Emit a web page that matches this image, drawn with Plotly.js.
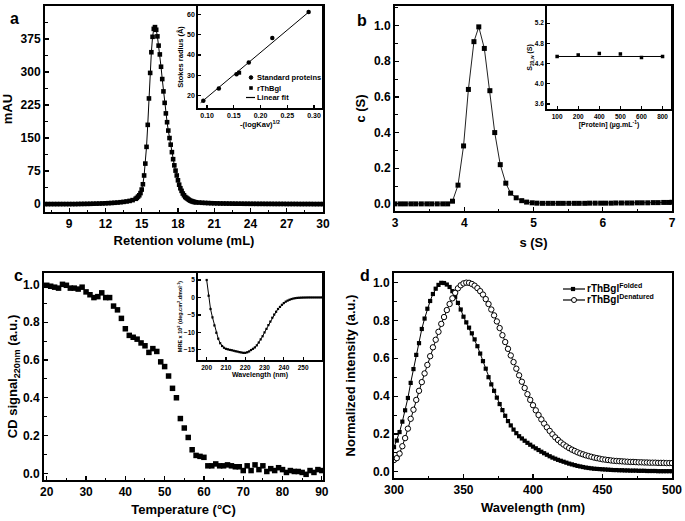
<!DOCTYPE html>
<html>
<head>
<meta charset="utf-8">
<script src="https://cdn.plot.ly/plotly-3.0.1.min.js"></script>
<style>html,body{margin:0;padding:0;background:#fff;}#chart{width:685px;height:521px;}</style>
</head>
<body>
<div id="chart"></div>
<script>
// ---------- Panel a: size-exclusion chromatogram ----------
const aVol = [7,7.25,7.5,7.75,8,8.25,8.5,8.75,9,9.25,9.5,9.75,10,10.25,10.5,10.75,11,11.25,11.5,11.75,12,12.25,12.5,12.75,13,13.25,13.5,13.75,14,14.25,
14.5,14.6,14.7,14.8,14.9,15,15.1,15.2,15.3,15.4,15.5,15.6,15.7,15.8,15.9,16,16.1,16.2,16.3,16.4,16.5,16.6,16.7,16.8,16.9,17,17.1,17.2,17.3,17.4,17.5,17.6,17.7,17.8,17.9,18,18.1,18.2,18.3,18.4,18.5,18.6,18.7,18.8,18.9,19,19.1,19.2,19.3,19.4,19.5,
19.75,20,20.25,20.5,20.75,21,21.25,21.5,21.75,22,22.25,22.5,22.75,23,23.25,23.5,23.75,24,24.25,24.5,24.75,25,25.25,25.5,25.75,26,26.25,26.5,26.75,27,27.25,27.5,27.75,28,28.25,28.5,28.75,29,29.25,29.5,29.75,30];
const aMAU = [0,0,0,0,0,0,0,0,0,0,0,0.2,0.3,0.4,0.5,0.6,0.8,1,1.2,1.5,1.8,2.1,2.5,3,3.5,4.2,5,6,7.2,9,
12,14,17,20,25,33,45,65,92,130,180,240,298,345,380,398,402,396,381,360,340,312,284,256,230,206,186,167,150,135,118,102,88,76,65,54,44,36,30,24,20,16,14,12,10,8,7,6,5,4.5,4,
3.5,3,2.6,2.3,2,1.8,1.6,1.4,1.3,1.2,1.1,1,0.9,0.8,0.8,0.7,0.7,0.6,0.6,0.5,0.5,0.5,0.4,0.4,0.4,0.3,0.3,0.3,0.3,0.2,0.2,0.2,0.2,0.1,0.1,0.1,0.1,0.1,0,0,0,0];
// inset a: calibration
const stdKav = [0.093,0.122,0.155,0.178,0.222,0.29];
const stdRadius = [17.5,23.5,30.5,36.3,48.3,61];
const rthKav = [0.16];
const rthRadius = [31.3];
const fitKav = [0.088,0.29];
const fitRadius = [16.6,61];
const aLegend = ['Standard proteins', 'rThBgl', 'Linear fit'];

// ---------- Panel b: sedimentation velocity ----------
const bS = [3,3.08,3.15,3.23,3.3,3.38,3.46,3.53,3.61,3.69,3.76,3.83,3.91,3.99,4.06,4.14,4.21,4.29,4.37,4.44,4.52,4.6,4.67,4.75,4.83,4.9,4.98,5.05,5.13,5.21,5.28,5.36,5.43,5.51,5.59,5.66,5.74,5.81,5.89,5.97,6.04,6.12,6.19,6.27,6.35,6.42,6.5,6.57,6.65,6.73,6.8,6.88,6.95,7];
const bC = [0,0,0,0,0,0,0,0,0,0,0,0.015,0.105,0.325,0.642,0.91,0.993,0.872,0.635,0.4,0.22,0.116,0.06,0.034,0.018,0.01,0.006,0.004,0.003,0.003,0.003,0.003,0.003,0.003,0.003,0.003,0.003,0.004,0.004,0.004,0.004,0.004,0.005,0.005,0.005,0.005,0.006,0.006,0.006,0.007,0.007,0.008,0.008,0.009];
// inset b
const bConc = ['100','200','400','500','600','800'];
const bSed = [4.54,4.57,4.60,4.59,4.52,4.54];
const bFitConc = ['100','800'];
const bFitSed = [4.54,4.54];

// ---------- Panel c: thermal denaturation ----------
const cTemp = [20,21,22,23,24,25,26,27,28,29,30,31,32,33,34,35,36,37,38,39,40,41,42,43,44,45,46,47,48,49,50,51,52,53,54,55,56,57,58,59,60,61,62,63,64,65,66,67,68,69,70,71,72,73,74,75,76,77,78,79,80,81,82,83,84,85,86,87,88,89,90];
const cCD = [0.995,0.99,0.985,0.98,1.0,0.995,0.98,0.98,0.975,0.985,0.96,0.945,0.93,0.935,0.955,0.93,0.93,0.885,0.865,0.82,0.765,0.73,0.72,0.71,0.69,0.675,0.64,0.66,0.645,0.59,0.565,0.515,0.45,0.40,0.29,0.24,0.19,0.125,0.095,0.09,0.085,0.04,0.04,0.05,0.04,0.04,0.045,0.04,0.035,0.035,0.015,0.04,0.015,0.045,0.02,0.04,0.01,0.025,0.015,0.03,0.02,0.005,0.015,0.01,0.01,0.005,-0.005,0.015,0.005,0.02,0.015];
// inset c: far-UV CD spectrum
const cWl = [200,201,202,203,204,205,206,207,208,209,210,211,212,213,214,215,216,217,218,219,220,221,222,223,224,225,226,227,228,229,230,231,232,233,234,235,236,237,238,239,240,241,242,243,244,245,246,247,248,249,250,251,252,253,254,255,256,257,258,259,260];
const cMRE = [5,0.5,-3.3,-5.7,-8,-10.1,-11.8,-13.1,-13.9,-14.4,-14.7,-14.85,-15,-15.1,-15.25,-15.4,-15.5,-15.65,-15.75,-15.85,-15.85,-15.7,-15.45,-15.05,-14.7,-14.3,-13.7,-12.9,-12,-11.1,-10,-9,-7.9,-6.9,-5.8,-4.9,-4.1,-3.3,-2.7,-2.1,-1.6,-1.2,-0.9,-0.65,-0.45,-0.3,-0.2,-0.12,-0.08,-0.05,-0.03,-0.02,-0.01,0,0,0,0,0,0,0,0];

// ---------- Panel d: intrinsic fluorescence ----------
const dWl = [300,302,304,306,308,310,312,314,316,318,320,322,324,326,328,330,332,334,336,338,340,342,344,346,348,350,352,354,356,358,360,362,364,366,368,370,372,374,376,378,380,382,384,386,388,390,392,394,396,398,400,402,404,406,408,410,412,414,416,418,420,422,424,426,428,430,432,434,436,438,440,442,444,446,448,450,452,454,456,458,460,462,464,466,468,470,472,474,476,478,480,482,484,486,488,490,492,494,496,498,500];
const dFolded = [0.13,0.165,0.21,0.265,0.325,0.39,0.47,0.543,0.618,0.68,0.755,0.81,0.862,0.903,0.94,0.968,0.988,0.999,0.998,0.99,0.977,0.955,0.925,0.893,0.858,0.82,0.79,0.762,0.732,0.70,0.664,0.625,0.585,0.545,0.5,0.462,0.428,0.392,0.358,0.326,0.296,0.268,0.245,0.223,0.204,0.188,0.176,0.164,0.153,0.143,0.133,0.124,0.115,0.106,0.098,0.09,0.082,0.075,0.069,0.063,0.058,0.053,0.048,0.043,0.039,0.035,0.031,0.028,0.025,0.022,0.02,0.018,0.016,0.015,0.014,0.013,0.012,0.011,0.01,0.009,0.009,0.008,0.008,0.007,0.007,0.006,0.006,0.006,0.005,0.005,0.005,0.004,0.004,0.004,0.004,0.003,0.003,0.003,0.003,0.003,0.003];
const dDenatured = [0.062,0.072,0.096,0.135,0.178,0.228,0.28,0.328,0.38,0.428,0.474,0.52,0.565,0.611,0.658,0.698,0.74,0.782,0.818,0.855,0.887,0.917,0.946,0.97,0.986,0.996,1.0,0.999,0.993,0.984,0.971,0.955,0.937,0.913,0.887,0.858,0.827,0.795,0.76,0.722,0.686,0.65,0.615,0.58,0.545,0.51,0.476,0.443,0.41,0.38,0.352,0.325,0.3,0.277,0.255,0.235,0.216,0.198,0.182,0.168,0.155,0.144,0.134,0.125,0.117,0.11,0.103,0.097,0.092,0.087,0.083,0.079,0.075,0.072,0.069,0.066,0.064,0.062,0.06,0.058,0.057,0.056,0.055,0.054,0.053,0.052,0.052,0.051,0.05,0.05,0.049,0.049,0.048,0.048,0.048,0.047,0.047,0.047,0.046,0.046,0.046];
const dLegend = ['rThBgl<sup>Folded</sup>', 'rThBgl<sup>Denatured</sup>'];

// ---------- styling ----------
const F = 'Liberation Sans, Arial, sans-serif';
function axis(o) {
  const fs = o.fs || 12;
  const a = {
    domain: o.domain, range: o.range, anchor: o.anchor,
    showgrid: false, zeroline: false, showline: true, mirror: true,
    linecolor: 'black', linewidth: o.lw || 2,
    ticks: 'inside', ticklen: o.tl || 4, tickwidth: 1.2, tickcolor: 'black',
    tickfont: {family: F, size: fs, color: 'black', weight: 'bold'},
    automargin: false, fixedrange: true,
    title: {text: o.title || '', font: {family: F, size: o.tfs || 13, color: 'black', weight: 'bold'}, standoff: o.so !== undefined ? o.so : 5}
  };
  if (o.type) a.type = o.type;
  if (o.cats) { a.categoryorder = 'array'; a.categoryarray = o.cats; }
  if (o.dtick !== undefined) { a.dtick = o.dtick; a.tick0 = o.tick0 !== undefined ? o.tick0 : 0; }
  if (o.fmt) a.tickformat = o.fmt;
  if (o.minor) a.minor = {ticks: 'inside', ticklen: 2.5, tickcolor: 'black', tickwidth: 1, dtick: o.minor, tick0: o.tick0 !== undefined ? o.tick0 : 0};
  return a;
}

const blk = 'black';
const traces = [
  {x: aVol, y: aMAU, xaxis: 'x', yaxis: 'y', mode: 'lines+markers', type: 'scatter',
   line: {color: blk, width: 1}, marker: {symbol: 'square', size: 4.6, color: blk}},
  {x: fitKav, y: fitRadius, xaxis: 'x2', yaxis: 'y2', mode: 'lines', type: 'scatter', name: aLegend[2],
   line: {color: blk, width: 1}},
  {x: stdKav, y: stdRadius, xaxis: 'x2', yaxis: 'y2', mode: 'markers', type: 'scatter', name: aLegend[0],
   marker: {symbol: 'circle', size: 4.5, color: blk}},
  {x: rthKav, y: rthRadius, xaxis: 'x2', yaxis: 'y2', mode: 'markers', type: 'scatter', name: aLegend[1],
   marker: {symbol: 'square', size: 4, color: blk}},
  {x: bS, y: bC, xaxis: 'x3', yaxis: 'y3', mode: 'lines+markers', type: 'scatter',
   line: {color: '#222', width: 1}, marker: {symbol: 'square', size: 5, color: blk}},
  {x: bConc, y: bSed, xaxis: 'x4', yaxis: 'y4', mode: 'markers', type: 'scatter',
   marker: {symbol: 'square', size: 3.5, color: blk}},
  {x: bFitConc, y: bFitSed, xaxis: 'x4', yaxis: 'y4', mode: 'lines', type: 'scatter',
   line: {color: blk, width: 1}},
  {x: cTemp, y: cCD, xaxis: 'x5', yaxis: 'y5', mode: 'markers', type: 'scatter',
   marker: {symbol: 'square', size: 5.5, color: blk}},
  {x: cWl, y: cMRE, xaxis: 'x6', yaxis: 'y6', mode: 'lines+markers', type: 'scatter',
   line: {color: blk, width: 1}, marker: {symbol: 'square', size: 2.2, color: blk}},
  {x: dWl, y: dFolded, xaxis: 'x7', yaxis: 'y7', mode: 'lines+markers', type: 'scatter', name: dLegend[0],
   line: {color: blk, width: 1}, marker: {symbol: 'square', size: 4.2, color: blk}},
  {x: dWl, y: dDenatured, xaxis: 'x7', yaxis: 'y7', mode: 'lines+markers', type: 'scatter', name: dLegend[1],
   line: {color: blk, width: 1}, marker: {symbol: 'circle', size: 5.4, color: 'white', line: {color: blk, width: 1}}}
];

const W = 685, H = 521;
const px = v => v / W, py = v => 1 - v / H;

// hand-built compact legends (symbol shapes + text), in paper coordinates
const shapes = [];
const annotations = [];
function legText(t, xl, yc, size) {
  annotations.push({text: t, x: px(xl), y: py(yc), xref: 'paper', yref: 'paper', xanchor: 'left', yanchor: 'middle',
    showarrow: false, font: {family: F, size: size, color: 'black', weight: 'bold'}});
}
function legLine(x0, x1, yc) {
  shapes.push({type: 'line', xref: 'paper', yref: 'paper', x0: px(x0), x1: px(x1), y0: py(yc), y1: py(yc), line: {color: blk, width: 1.2}});
}
function legSquare(cx, cy, s) {
  shapes.push({type: 'rect', xref: 'paper', yref: 'paper', x0: px(cx - s / 2), x1: px(cx + s / 2), y0: py(cy - s / 2), y1: py(cy + s / 2), fillcolor: blk, line: {color: blk, width: 0}});
}
function legCircle(cx, cy, s, fill) {
  shapes.push({type: 'circle', xref: 'paper', yref: 'paper', x0: px(cx - s / 2), x1: px(cx + s / 2), y0: py(cy - s / 2), y1: py(cy + s / 2), fillcolor: fill, line: {color: blk, width: 1}});
}
// inset a legend
legCircle(251, 77.5, 3.6, blk); legText(aLegend[0], 255, 77.5, 7.5);
legSquare(251, 88, 3.6);        legText(aLegend[1], 255, 88, 7.5);
legLine(246, 255, 97.5);        legText(aLegend[2], 255, 97.5, 7.5);
// panel d legend
legLine(563, 585, 289); legSquare(573, 289, 4.2); legText(dLegend[0], 585, 288, 10);
legLine(563, 585, 300); legCircle(574, 300, 5, 'white'); legText(dLegend[1], 585, 299, 10);

// panel letters
[['a', 8, 8], ['b', 362, 10], ['c', 12, 275], ['d', 365, 275]].forEach(l => {
  annotations.push({text: l[0], x: px(l[1]), y: py(l[2]), xref: 'paper', yref: 'paper', showarrow: false,
    font: {family: F, size: 16, color: 'black', weight: 'bold'}});
});

const layout = {
  width: W, height: H, margin: {l: 0, r: 0, t: 0, b: 0},
  paper_bgcolor: 'white', plot_bgcolor: 'rgba(0,0,0,0)', showlegend: false,
  font: {family: F, color: 'black', weight: 'bold'},
  xaxis: axis({domain: [px(45), px(323)], range: [7, 30], anchor: 'y', dtick: 3, tick0: 9, minor: 1.5, title: 'Retention volume (mL)', so: 5}),
  yaxis: axis({domain: [py(212), py(6)], range: [-18, 450], anchor: 'x', dtick: 75, minor: 37.5, title: 'mAU', so: 5}),
  xaxis2: axis({domain: [px(198), px(322)], range: [0.083, 0.315], anchor: 'y2', dtick: 0.05, tick0: 0.1, fmt: '.2f', fs: 7, tfs: 7.5, lw: 1.8, tl: 3, title: '-(logKav)<sup>1/2</sup>', so: 2}),
  yaxis2: axis({domain: [py(108), py(6)], range: [14, 64], anchor: 'x2', dtick: 10, tick0: 20, fs: 7, tfs: 7.5, lw: 1.8, tl: 3, title: 'Stokes radius (Å)', so: 2}),
  xaxis3: axis({domain: [px(395), px(672)], range: [3, 7], anchor: 'y3', dtick: 1, minor: 0.5, title: 's (S)', so: 8}),
  yaxis3: axis({domain: [py(211), py(6)], range: [-0.04, 1.11], anchor: 'x3', dtick: 0.2, minor: 0.1, fmt: '.1f', title: 'c (S)', so: 5}),
  xaxis4: axis({domain: [px(547), px(671)], range: [-0.48, 5.4], anchor: 'y4', type: 'category', cats: bConc, fs: 6.5, tfs: 7, lw: 1.8, tl: 3, title: '[Protein] (µg.mL<sup>-1</sup>)', so: 2}),
  yaxis4: axis({domain: [py(109), py(6)], range: [3.5, 5.54], anchor: 'x4', dtick: 0.4, tick0: 3.6, fmt: '.1f', fs: 6.5, tfs: 7, lw: 1.8, tl: 3, title: 'S<sub>20,w</sub> (S)', so: 1}),
  xaxis5: axis({domain: [px(44), px(323)], range: [19.3, 90.3], anchor: 'y5', dtick: 10, minor: 5, title: 'Temperature (°C)', so: 6}),
  yaxis5: axis({domain: [py(480), py(273)], range: [-0.035, 1.06], anchor: 'x5', dtick: 0.2, minor: 0.1, fmt: '.1f', title: 'CD signal<sub>220nm</sub> (a.u.)', so: 2}),
  xaxis6: axis({domain: [px(198), px(322)], range: [195.5, 259.8], anchor: 'y6', dtick: 10, tick0: 200, fs: 6.5, tfs: 7, lw: 1.8, tl: 3, title: 'Wavelength (nm)', so: 1}),
  yaxis6: axis({domain: [py(360), py(273)], range: [-17.9, 7], anchor: 'x6', dtick: 5, fs: 6.5, tfs: 5.5, lw: 1.8, tl: 3, title: 'MRE x 10<sup>3</sup> (deg.cm<sup>2</sup>.dmol<sup>-1</sup>)', so: 1}),
  xaxis7: axis({domain: [px(394), px(672)], range: [300, 500], anchor: 'y7', dtick: 50, minor: 25, title: 'Wavelength (nm)', so: 6}),
  yaxis7: axis({domain: [py(478), py(273)], range: [-0.033, 1.051], anchor: 'x7', dtick: 0.2, minor: 0.1, fmt: '.1f', title: 'Normalized intensity (a.u.)', so: 14}),
  shapes: shapes,
  annotations: annotations
};

Plotly.newPlot('chart', traces, layout, {displayModeBar: false, staticPlot: true});
</script>
</body>
</html>
